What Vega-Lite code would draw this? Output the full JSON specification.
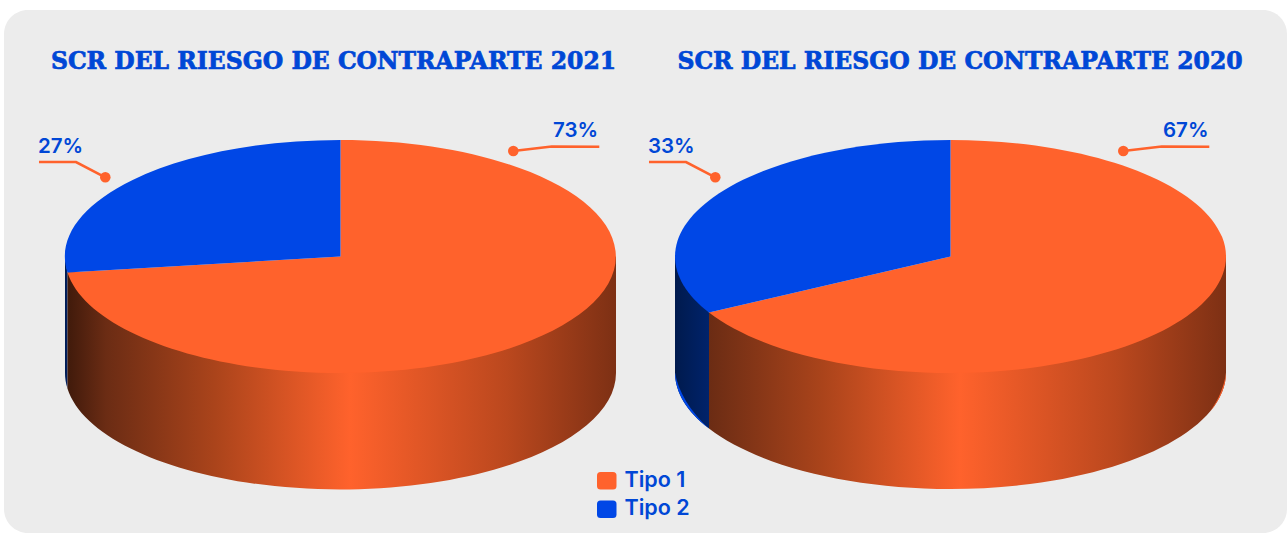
{
  "$schema": "https://vega.github.io/schema/vega-lite/v6.json",
  "width": 1287,
  "height": 533,
  "autosize": {"type": "fit", "contains": "padding"},
  "padding": {"left": 4, "top": 10, "right": 0, "bottom": 0},
  "background": "#ffffff",
  "view": {"fill": "#ececec", "cornerRadius": 24, "stroke": null},
  "data": {"values": [
    {"pie": "2021", "tipo": "Tipo 1", "valor": 0.73},
    {"pie": "2021", "tipo": "Tipo 2", "valor": 0.27},
    {"pie": "2020", "tipo": "Tipo 1", "valor": 0.67},
    {"pie": "2020", "tipo": "Tipo 2", "valor": 0.33}
  ]},
  "encoding": {
    "x": {"field": "pie", "type": "nominal", "axis": null, "scale": {"type": "point", "domain": ["2021", "2020"], "range": [336.5, 946.5], "padding": 0}},
    "y": {"value": 246.5}
  },
  "layer": [
    {"transform": [{"filter": "datum.pie == '2021' && datum.tipo == 'Tipo 2'"}],
     "mark": {"type": "point", "filled": true, "opacity": 1, "size": 303601, "strokeWidth": 0, "shape": "M-1,0 L-1,0.42105 A1,0.42287 0 0 0 -0.9911,0.47905 L-0.9911,0.058 Z",
       "fill": {"gradient": "linear", "x1": 0, "y1": 0, "x2": 1, "y2": 0, "stops": [{"offset": 0, "color": "#001a4d"}, {"offset": 1, "color": "#00236b"}]}}},
    {"transform": [{"filter": "datum.pie == '2021' && datum.tipo == 'Tipo 1'"}],
     "mark": {"type": "point", "filled": true, "opacity": 1, "size": 303601, "strokeWidth": 0, "shape": "M-0.9911,0.058 L-0.9911,0.47905 A1,0.42287 0 0 0 1,0.42105 L1,0 Z",
       "fill": {"gradient": "linear", "x1": 0, "y1": 0, "x2": 1, "y2": 0, "stops": [{"offset": 0, "color": "#401a0b"}, {"offset": 0.07, "color": "#6b2c14"}, {"offset": 0.27, "color": "#ab441b"}, {"offset": 0.515, "color": "#ff622c"}, {"offset": 0.8, "color": "#bb481e"}, {"offset": 1, "color": "#7d3014"}]}}},
    {"transform": [{"filter": "datum.pie == '2020' && datum.tipo == 'Tipo 2'"}],
     "mark": {"type": "point", "filled": true, "opacity": 1, "size": 303601, "strokeWidth": 0, "shape": "M-1,0 L-1,0.42105 A1,0.42287 0 0 0 -0.8766,0.62455 L-0.8766,0.2035 Z",
       "fill": {"gradient": "linear", "x1": 0, "y1": 0, "x2": 1, "y2": 0, "stops": [{"offset": 0, "color": "#001a4d"}, {"offset": 1, "color": "#00236b"}]}}},
    {"transform": [{"filter": "datum.pie == '2020' && datum.tipo == 'Tipo 1'"}],
     "mark": {"type": "point", "filled": true, "opacity": 1, "size": 303601, "strokeWidth": 0, "shape": "M-0.8766,0.2035 L-0.8766,0.62455 A1,0.42287 0 0 0 1,0.42105 L1,0 Z",
       "fill": {"gradient": "linear", "x1": 0, "y1": 0, "x2": 1, "y2": 0, "stops": [{"offset": 0, "color": "#6b2c14"}, {"offset": 0.222, "color": "#ab441b"}, {"offset": 0.485, "color": "#ff622c"}, {"offset": 0.787, "color": "#bb481e"}, {"offset": 1, "color": "#7d3014"}]}}},
    {"transform": [{"filter": "datum.pie == '2020' && datum.tipo == 'Tipo 2'"}],
     "mark": {"type": "point", "filled": true, "opacity": 1, "size": 303601, "strokeWidth": 0, "fill": "#0047e6", "shape": "M-1,0.42105 A1,0.42287 0 0 0 -0.8766,0.62455 A1.4,0.592 0 0 1 -1,0.42105 Z"}},
    {"transform": [{"filter": "datum.pie == '2020' && datum.tipo == 'Tipo 1'"}],
     "mark": {"type": "point", "filled": true, "opacity": 1, "size": 303601, "strokeWidth": 0, "fill": "#ff622c", "shape": "M1,0.42105 A1,0.42287 0 0 1 0.942,0.56305 A1.4,0.592 0 0 0 1,0.42105 Z"}},
    {"transform": [{"filter": "datum.pie == '2021' && datum.tipo == 'Tipo 1'"}],
     "mark": {"type": "point", "filled": true, "opacity": 1, "size": 303601, "strokeWidth": 0, "shape": "M0,0 L0,-0.42287 A1,0.42287 0 1 1 -0.9911,0.058 Z"},
     "encoding": {"color": {"field": "tipo", "type": "nominal", "scale": {"domain": ["Tipo 1", "Tipo 2"], "range": ["#ff622c", "#0047e6"]},
       "legend": {"title": null, "orient": "none", "legendX": 592, "legendY": 460, "padding": 0, "symbolSize": 400, "symbolOpacity": 1, "symbolStrokeWidth": 0,
         "symbolType": "M-0.625,-0.865 L0.625,-0.865 Q0.975,-0.865 0.975,-0.515 L0.975,0.515 Q0.975,0.865 0.625,0.865 L-0.625,0.865 Q-0.975,0.865 -0.975,0.515 L-0.975,-0.515 Q-0.975,-0.865 -0.625,-0.865 Z",
         "labelFont": "Inter", "labelFontSize": 21.5, "labelFontWeight": 600, "labelColor": "#0047d6", "labelOffset": 7, "rowPadding": 5.5}}}},
    {"transform": [{"filter": "datum.pie == '2021' && datum.tipo == 'Tipo 2'"}],
     "mark": {"type": "point", "filled": true, "opacity": 1, "size": 303601, "strokeWidth": 0, "shape": "M0,0 L0,-0.42287 A1,0.42287 0 0 0 -0.9911,0.058 Z"},
     "encoding": {"color": {"field": "tipo", "type": "nominal"}}},
    {"transform": [{"filter": "datum.pie == '2020' && datum.tipo == 'Tipo 1'"}],
     "mark": {"type": "point", "filled": true, "opacity": 1, "size": 303601, "strokeWidth": 0, "shape": "M0,0 L0,-0.42287 A1,0.42287 0 1 1 -0.8766,0.2035 Z"},
     "encoding": {"color": {"field": "tipo", "type": "nominal"}}},
    {"transform": [{"filter": "datum.pie == '2020' && datum.tipo == 'Tipo 2'"}],
     "mark": {"type": "point", "filled": true, "opacity": 1, "size": 303601, "strokeWidth": 0, "shape": "M0,0 L0,-0.42287 A1,0.42287 0 0 0 -0.8766,0.2035 Z"},
     "encoding": {"color": {"field": "tipo", "type": "nominal"}}},
    {"transform": [{"filter": "datum.tipo == 'Tipo 1'"}],
     "mark": {"type": "point", "filled": false, "opacity": 1, "size": 303601, "stroke": "#ff622c", "strokeWidth": 2.6, "shape": "M0.6272,-0.3829 L0.7666,-0.3993 L0.9394,-0.3985"}},
    {"transform": [{"filter": "datum.tipo == 'Tipo 2'"}],
     "mark": {"type": "point", "filled": false, "opacity": 1, "size": 303601, "stroke": "#ff622c", "strokeWidth": 2.6, "shape": "M-0.8537,-0.2875 L-0.96,-0.343 L-1.0944,-0.343"}},
    {"transform": [{"filter": "datum.tipo == 'Tipo 1'"}],
     "mark": {"type": "point", "filled": true, "opacity": 1, "shape": "circle", "size": 112, "fill": "#ff622c", "strokeWidth": 0, "xOffset": 172.8, "yOffset": -105.5}},
    {"transform": [{"filter": "datum.tipo == 'Tipo 2'"}],
     "mark": {"type": "point", "filled": true, "opacity": 1, "shape": "circle", "size": 112, "fill": "#ff622c", "strokeWidth": 0, "xOffset": -235.2, "yOffset": -79.2}},
    {"transform": [{"filter": "datum.tipo == 'Tipo 1'"}],
     "mark": {"type": "text", "align": "left", "baseline": "alphabetic", "font": "Inter", "fontSize": 20.5, "fontWeight": 600, "color": "#0047d6", "dx": 212.5, "dy": -119.8},
     "encoding": {"text": {"field": "valor", "type": "quantitative", "format": ".0%"}}},
    {"transform": [{"filter": "datum.tipo == 'Tipo 2'"}],
     "mark": {"type": "text", "align": "left", "baseline": "alphabetic", "font": "Inter", "fontSize": 20.5, "fontWeight": 600, "color": "#0047d6", "dx": -302.5, "dy": -103.5},
     "encoding": {"text": {"field": "valor", "type": "quantitative", "format": ".0%"}}},
    {"data": {"values": [{"pie": "2021", "titulo": "SCR DEL RIESGO DE CONTRAPARTE 2021"}]},
     "mark": {"type": "text", "align": "center", "baseline": "alphabetic", "font": "DejaVu Serif", "fontSize": 23.5, "fontWeight": "bold", "color": "#0047d6", "stroke": "#0047d6", "strokeWidth": 0.7, "dx": -7, "dy": -187.5},
     "encoding": {"text": {"field": "titulo"}}},
    {"data": {"values": [{"pie": "2020", "titulo": "SCR DEL RIESGO DE CONTRAPARTE 2020"}]},
     "mark": {"type": "text", "align": "center", "baseline": "alphabetic", "font": "DejaVu Serif", "fontSize": 23.5, "fontWeight": "bold", "color": "#0047d6", "stroke": "#0047d6", "strokeWidth": 0.7, "dx": 9.5, "dy": -187.5},
     "encoding": {"text": {"field": "titulo"}}}
  ]
}
